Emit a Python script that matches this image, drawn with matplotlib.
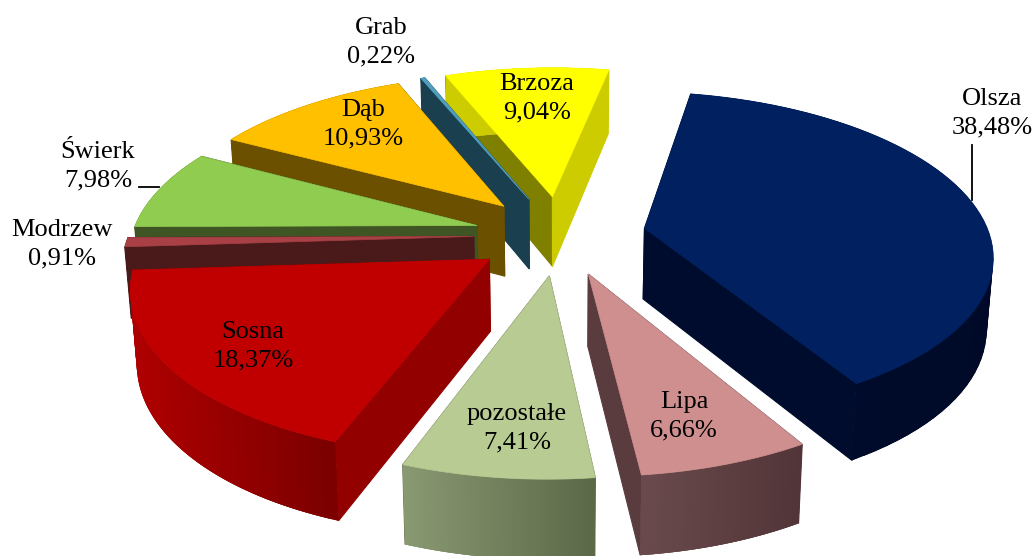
import numpy as np
import matplotlib
matplotlib.use('Agg')
import matplotlib.pyplot as plt
from matplotlib.patches import Polygon
from matplotlib.colors import to_rgb

# species share, clockwise from the first slice
names = ['Olsza', 'Lipa', 'pozostałe', 'Sosna', 'Modrzew', 'Świerk', 'Dąb', 'Grab', 'Brzoza']
shares = [38.48, 6.66, 7.41, 18.37, 0.91, 7.98, 10.93, 0.22, 9.04]

top_colors = ['#002060', '#cf8f8f', '#b8cb92', '#c00000', '#a84045', '#90cc50', '#ffc000', '#4f9fc0', '#ffff00']
start_side = ['#000c2e', '#5a3c3e', '#5e6b4a', '#920000', '#4a1a1a', '#3f5524', '#6b5000', '#1a4050', '#7f7f00']
end_side = ['#000c2e', '#5a3c3e', '#5e6b4a', '#920000', '#4a1a1a', '#3f5524', '#6b5000', '#1a4050', '#cccc00']
wall_left = ['#000c2e', '#6a4a4d', '#8a9a72', '#b00000', '#4a1a1a', '#3f5524', '#6b5000', '#1a4050', '#cccc00']
wall_right = ['#000a28', '#523538', '#5c6949', '#7c0000', '#4a1a1a', '#3f5524', '#6b5000', '#1a4050', '#cccc00']

# back to front
draw_order = [8, 7, 6, 5, 4, 3, 0, 1, 2]

label_xy = [(992, 113), (684, 416), (517, 428), (253, 346), (62, 244), (98, 166), (363, 124), (381, 42), (537, 98)]

# pie geometry
start_angle = 11.0
explode = 0.25
cx, cy = 560, 235
rx, ry = 345, 159
persp = 0.15
thick = 71


def project(u, v):
    w = 1 + persp * v
    return cx + rx * u / w, cy - ry * v / w


def lower(u, v):
    # same point on the bottom face of the slab
    x, y = project(u, v)
    w = 1 + persp * v
    return cx + (x - cx) * 0.985, y + thick / w ** 0.6


def side_quad(ax, u0, v0, u1, v1, color, lw=0.0):
    pts = [project(u0, v0), project(u1, v1), lower(u1, v1), lower(u0, v0)]
    ax.add_patch(Polygon(pts, closed=True, fc=color, ec=color if lw else 'none', lw=lw))


fig = plt.figure(figsize=(10.35, 5.56), dpi=100)
ax = fig.add_axes([0, 0, 1, 1])
ax.set_xlim(0, 1035)
ax.set_ylim(556, 0)
ax.axis('off')

fracs = np.array(shares) / sum(shares) * 360
ends = start_angle + np.cumsum(fracs)
starts = ends - fracs

for i in draw_order:
    mid = np.radians((starts[i] + ends[i]) / 2)
    ou, ov = explode * np.sin(mid), explode * np.cos(mid)
    th = np.radians(np.linspace(starts[i], ends[i], 61))
    u = ou + np.sin(th)
    v = ov + np.cos(th)

    side_quad(ax, ou, ov, u[0], v[0], start_side[i], lw=0.8)
    side_quad(ax, ou, ov, u[-1], v[-1], end_side[i], lw=0.8)

    # outer wall, shaded in overlapping strips from left to right
    xs = project(u, v)[0]
    c0, c1 = np.array(to_rgb(wall_left[i])), np.array(to_rgb(wall_right[i]))
    order = np.arange(len(th) - 1)
    if xs[0] > xs[-1]:
        order = order[::-1]
    for k in order:
        t = ((xs[k] + xs[k + 1]) / 2 - xs.min()) / (xs.max() - xs.min())
        a = max(k - 1, 0)
        b = min(k + 2, len(th) - 1)
        side_quad(ax, u[a], v[a], u[b], v[b], tuple(c0 + (c1 - c0) * t))

    px, py = project(np.r_[ou, u], np.r_[ov, v])
    ax.add_patch(Polygon(np.c_[px, py], closed=True, fc=top_colors[i], ec=top_colors[i], lw=0.5))

# leader lines
ax.plot([972, 972], [145, 200], color='black', lw=1.3)
ax.plot([139, 159], [187, 187], color='black', lw=1.3)

for name, share, (lx, ly) in zip(names, shares, label_xy):
    txt = f'{name}\n{share:.2f}%'.replace('.', ',')
    ax.text(lx, ly, txt, ha='center', va='center', fontsize=19, family='Liberation Serif',
            linespacing=1.4, color='black')

fig.savefig('out.png', dpi=100)
